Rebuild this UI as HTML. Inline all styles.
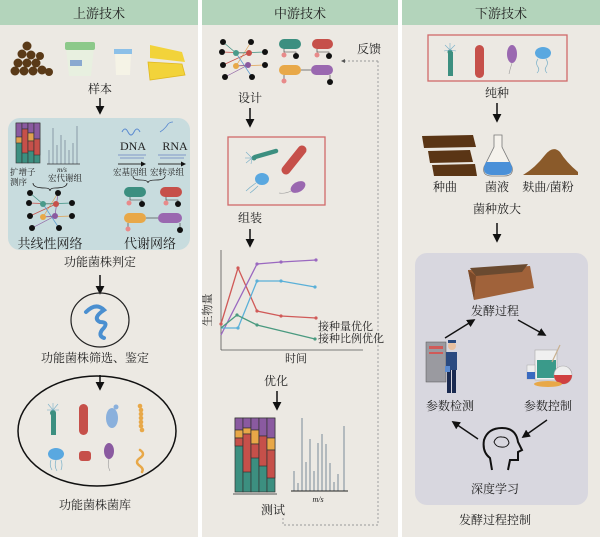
<!DOCTYPE html>
<html><head><meta charset="utf-8"><style>
html,body{margin:0;padding:0;background:#fff}
svg{display:block}
text{font-family:"Liberation Serif","Noto Serif CJK SC","Noto Sans CJK SC",serif;fill:#222}
</style></head><body>
<svg width="600" height="537" viewBox="0 0 600 537" xmlns="http://www.w3.org/2000/svg">
<defs>
<marker id="ah" viewBox="0 0 10 10" refX="8" refY="5" markerWidth="6" markerHeight="6" orient="auto"><path d="M0,0L10,5L0,10z" fill="#111"/></marker>
<marker id="ahs" viewBox="0 0 10 10" refX="8" refY="5" markerWidth="5" markerHeight="5" orient="auto"><path d="M0,0L10,5L0,10z" fill="#111"/></marker>
</defs>
<rect width="600" height="537" fill="#fff"/>
<!-- panels -->
<rect x="0" y="0" width="198" height="537" fill="#ece9e3"/>
<rect x="202" y="0" width="196" height="537" fill="#ece9e3"/>
<rect x="402" y="0" width="198" height="537" fill="#ece9e3"/>
<rect x="0" y="0" width="198" height="25" fill="#b3d4bb"/>
<rect x="202" y="0" width="196" height="25" fill="#b3d4bb"/>
<rect x="402" y="0" width="198" height="25" fill="#b3d4bb"/>
<text x="99" y="18" font-size="13" text-anchor="middle">上游技术</text>
<text x="300" y="18" font-size="13" text-anchor="middle">中游技术</text>
<text x="501" y="18" font-size="13" text-anchor="middle">下游技术</text>

<!-- ===== Panel 1 ===== -->
<g fill="#5a3a18">
<circle cx="27" cy="46" r="4.5"/><circle cx="22" cy="54" r="4.5"/><circle cx="31" cy="55" r="4.5"/><circle cx="18" cy="63" r="4.5"/><circle cx="27" cy="63" r="4.5"/><circle cx="36" cy="63" r="4.5"/><circle cx="15" cy="71" r="4.5"/><circle cx="24" cy="71" r="4.5"/><circle cx="33" cy="71" r="4.5"/><circle cx="42" cy="70" r="4.5"/><circle cx="49" cy="72" r="4"/><circle cx="40" cy="56" r="4"/>
</g>
<path d="M66,48 L94,48 L91,76 L69,76 Z" fill="#e8f0e0"/><rect x="65" y="42" width="30" height="8" rx="2" fill="#8cc98a"/><rect x="70" y="60" width="12" height="6" fill="#8aa9d0"/>
<path d="M115,52 L131,52 L130,75 L116,75 Z" fill="#f5f3e6"/><rect x="114" y="49" width="18" height="5" fill="#8cc0e8"/>
<path d="M150,45 L182,52 L185,62 L150,58 Z" fill="#f2d33a"/><path d="M148,62 L182,64 L185,75 L150,80 Z" fill="#f2d33a" stroke="#e0b820" stroke-width="0.8"/>
<text x="100" y="93" font-size="12" text-anchor="middle">样本</text>
<line x1="100" y1="98" x2="100" y2="113" stroke="#111" stroke-width="1.5" marker-end="url(#ah)"/>
<rect x="8" y="118" width="182" height="132" rx="12" fill="#c8dcde"/>
<!-- stacked bar -->
<g stroke="#333" stroke-width="0.6">
<rect x="16" y="123" width="6" height="40" fill="#3c8f80"/><rect x="16" y="123" width="6" height="14" fill="#8a5aa0"/><rect x="16" y="137" width="6" height="6" fill="#e0a050"/>
<rect x="22" y="123" width="6" height="40" fill="#3c8f80"/><rect x="22" y="123" width="6" height="6" fill="#8a5aa0"/><rect x="22" y="129" width="6" height="24" fill="#c6504a"/>
<rect x="28" y="123" width="6" height="40" fill="#3c8f80"/><rect x="28" y="123" width="6" height="10" fill="#8a5aa0"/><rect x="28" y="133" width="6" height="8" fill="#e0a050"/><rect x="28" y="141" width="6" height="10" fill="#c6504a"/>
<rect x="34" y="123" width="6" height="40" fill="#3c8f80"/><rect x="34" y="123" width="6" height="16" fill="#8a5aa0"/><rect x="34" y="139" width="6" height="16" fill="#c6504a"/>
</g>
<g stroke="#7a8a9a" stroke-width="0.8">
<line x1="49" y1="164" x2="49" y2="150"/><line x1="53" y1="164" x2="53" y2="128"/><line x1="57" y1="164" x2="57" y2="145"/><line x1="61" y1="164" x2="61" y2="135"/><line x1="65" y1="164" x2="65" y2="140"/><line x1="69" y1="164" x2="69" y2="150"/><line x1="73" y1="164" x2="73" y2="143"/><line x1="77" y1="164" x2="77" y2="126"/>
<line x1="47" y1="164" x2="80" y2="164" stroke="#333"/></g>
<text x="62" y="172" font-size="7" font-style="italic" text-anchor="middle">m/s</text>
<text x="10" y="175" font-size="8.5">扩增子</text><text x="10" y="185" font-size="8.5">测序</text>
<text x="48" y="181" font-size="8.5">宏代谢组</text>
<path d="M33,183 Q33,188 45,188 Q50,188 50,191 Q50,188 55,188 Q67,188 67,183" fill="none" stroke="#222" stroke-width="0.8"/>
<path d="M122,132 q3,-6 6,0 q3,6 6,0 q3,-6 6,0" fill="none" stroke="#5a8ad0" stroke-width="1"/>
<path d="M160,132 q5,-3 8,-8 q2,-2 5,-2" fill="none" stroke="#5a8ad0" stroke-width="0.8"/>
<text x="133" y="150" font-size="12" text-anchor="middle">DNA</text><text x="175" y="150" font-size="12" text-anchor="middle">RNA</text>
<g stroke="#6a80c0" stroke-width="0.7"><line x1="118" y1="155" x2="146" y2="155"/><line x1="120" y1="158" x2="144" y2="158"/><line x1="158" y1="155" x2="186" y2="155"/><line x1="160" y1="158" x2="184" y2="158"/></g>
<line x1="118" y1="164" x2="145" y2="164" stroke="#333" stroke-width="1" marker-end="url(#ahs)"/>
<line x1="158" y1="164" x2="185" y2="164" stroke="#333" stroke-width="1" marker-end="url(#ahs)"/>
<text x="113" y="175" font-size="8.5">宏基因组</text><text x="150" y="175" font-size="8.5">宏转录组</text>
<path d="M133,176 Q133,180 140,180 Q148,180 148,183 Q148,180 156,180 Q165,180 165,176" fill="none" stroke="#222" stroke-width="0.8"/>
<!-- co-occurrence network -->
<g stroke-width="0.7">
<line x1="30" y1="193" x2="43" y2="204" stroke="#3c8f80"/><line x1="58" y1="193" x2="43" y2="217" stroke="#e0a050"/><line x1="29" y1="203" x2="56" y2="204" stroke="#c6504a"/><line x1="72" y1="203" x2="43" y2="204" stroke="#3c8f80"/><line x1="30" y1="216" x2="56" y2="204" stroke="#c6504a"/><line x1="72" y1="216" x2="43" y2="217" stroke="#e0a050"/><line x1="32" y1="228" x2="55" y2="216" stroke="#8a5aa0"/><line x1="59" y1="228" x2="43" y2="204" stroke="#5a9ad0"/><line x1="43" y1="217" x2="55" y2="216" stroke="#8a5aa0"/><line x1="58" y1="193" x2="55" y2="216" stroke="#8a5aa0"/>
</g>
<g fill="#111"><circle cx="30" cy="193" r="3"/><circle cx="58" cy="193" r="3"/><circle cx="29" cy="203" r="3"/><circle cx="72" cy="203" r="3"/><circle cx="30" cy="216" r="3"/><circle cx="72" cy="216" r="3"/><circle cx="32" cy="228" r="3"/><circle cx="59" cy="228" r="3"/></g>
<circle cx="43" cy="204" r="3" fill="#4a9a8a"/><circle cx="56" cy="204" r="3" fill="#c6504a"/><circle cx="43" cy="217" r="3" fill="#e8a848"/><circle cx="55" cy="216" r="3" fill="#8a5aa0"/>
<text x="50" y="248" font-size="13" text-anchor="middle">共线性网络</text>
<!-- metabolic network -->
<rect x="124" y="187" width="22" height="10" rx="5" fill="#3c8f80"/><rect x="160" y="187" width="22" height="10" rx="5" fill="#c6504a"/>
<rect x="124" y="213" width="22" height="10" rx="5" fill="#e8a848"/><rect x="158" y="213" width="24" height="10" rx="5" fill="#9a68b0"/>
<g stroke="#333" stroke-width="0.6" fill="none"><path d="M130,197 v3 h12 v3"/><path d="M166,197 v3 h12 v3"/><path d="M146,218 h12"/><path d="M128,223 v4"/><path d="M180,223 v4"/></g>
<circle cx="129" cy="203" r="2.5" fill="#e88a8a"/><circle cx="142" cy="204" r="3" fill="#111"/><circle cx="166" cy="203" r="2.5" fill="#e88a8a"/><circle cx="178" cy="204" r="3" fill="#111"/><circle cx="128" cy="229" r="2.5" fill="#e88a8a"/><circle cx="180" cy="230" r="3" fill="#111"/>
<text x="150" y="248" font-size="13" text-anchor="middle">代谢网络</text>
<text x="100" y="266" font-size="12" text-anchor="middle">功能菌株判定</text>
<line x1="100" y1="275" x2="100" y2="293" stroke="#111" stroke-width="1.5" marker-end="url(#ah)"/>
<ellipse cx="100" cy="320" rx="29" ry="27" fill="none" stroke="#222" stroke-width="1.2"/>
<path d="M86,312 Q96,302 104,310 Q92,318 100,322 Q110,322 102,330 Q98,336 104,338" fill="none" stroke="#4a8fd0" stroke-width="4" stroke-linecap="round"/>
<text x="95" y="362" font-size="12" text-anchor="middle">功能菌株筛选、鉴定</text>
<line x1="100" y1="375" x2="100" y2="389" stroke="#111" stroke-width="1.5" marker-end="url(#ah)"/>
<ellipse cx="97" cy="431" rx="79" ry="55" fill="none" stroke="#111" stroke-width="1.5"/>
<rect x="51" y="413" width="5" height="22" fill="#3c8f80"/><circle cx="53" cy="413" r="3" fill="#3c8f80"/>
<g stroke="#7ab0c8" stroke-width="0.6"><line x1="53" y1="410" x2="48" y2="404"/><line x1="53" y1="410" x2="53" y2="403"/><line x1="53" y1="410" x2="58" y2="404"/><line x1="53" y1="410" x2="47" y2="410"/><line x1="53" y1="410" x2="59" y2="410"/></g>
<rect x="79" y="404" width="9" height="31" rx="4.5" fill="#c6504a"/>
<ellipse cx="112" cy="418" rx="6" ry="10" fill="#8ab0dc"/><circle cx="116" cy="407" r="2.5" fill="#8ab0dc"/>
<g fill="#e8a848"><circle cx="140" cy="406" r="2.3"/><circle cx="141" cy="410" r="2.3"/><circle cx="141" cy="414" r="2.3"/><circle cx="141" cy="418" r="2.3"/><circle cx="141" cy="422" r="2.3"/><circle cx="141" cy="426" r="2.3"/><circle cx="142" cy="430" r="2.3"/></g>
<ellipse cx="56" cy="454" rx="8" ry="6" fill="#5aa8e0"/><path d="M51,460 q-2,5 1,10 M56,460 q-2,6 1,11 M61,460 q2,5 0,10" fill="none" stroke="#7ab0c8" stroke-width="0.7"/>
<rect x="79" y="451" width="12" height="10" rx="3" fill="#c6504a"/>
<ellipse cx="109" cy="451" rx="5" ry="8" fill="#8a5aa0"/><path d="M109,459 q-2,6 1,12" fill="none" stroke="#999" stroke-width="0.6"/>
<path d="M140,450 q6,4 0,8 q-6,4 0,8 q4,3 2,6" fill="none" stroke="#e8a848" stroke-width="2.5" stroke-linecap="round"/>
<text x="95" y="509" font-size="12" text-anchor="middle">功能菌株菌库</text>

<!-- ===== Panel 2 ===== -->
<g stroke-width="0.7">
<line x1="223" y1="42" x2="236" y2="53" stroke="#3c8f80"/><line x1="251" y1="42" x2="236" y2="66" stroke="#e0a050"/><line x1="222" y1="52" x2="249" y2="53" stroke="#c6504a"/><line x1="265" y1="52" x2="236" y2="53" stroke="#3c8f80"/><line x1="223" y1="65" x2="249" y2="53" stroke="#c6504a"/><line x1="265" y1="65" x2="236" y2="66" stroke="#e0a050"/><line x1="225" y1="77" x2="248" y2="65" stroke="#8a5aa0"/><line x1="252" y1="77" x2="236" y2="53" stroke="#5a9ad0"/><line x1="236" y1="66" x2="248" y2="65" stroke="#8a5aa0"/>
</g>
<g fill="#111"><circle cx="223" cy="42" r="3"/><circle cx="251" cy="42" r="3"/><circle cx="222" cy="52" r="3"/><circle cx="265" cy="52" r="3"/><circle cx="223" cy="65" r="3"/><circle cx="265" cy="65" r="3"/><circle cx="225" cy="77" r="3"/><circle cx="252" cy="77" r="3"/></g>
<circle cx="236" cy="53" r="3" fill="#4a9a8a"/><circle cx="249" cy="53" r="3" fill="#c6504a"/><circle cx="236" cy="66" r="3" fill="#e8a848"/><circle cx="248" cy="65" r="3" fill="#8a5aa0"/>
<rect x="279" y="39" width="22" height="10" rx="5" fill="#3c8f80"/><rect x="312" y="39" width="21" height="10" rx="5" fill="#c6504a"/>
<rect x="279" y="65" width="22" height="10" rx="5" fill="#e8a848"/><rect x="311" y="65" width="22" height="10" rx="5" fill="#9a68b0"/>
<g stroke="#333" stroke-width="0.6" fill="none"><path d="M284,49 v3 h12 v3"/><path d="M317,49 v3 h12 v3"/><path d="M301,70 h10"/><path d="M284,75 v4"/><path d="M330,75 v4"/></g>
<circle cx="284" cy="55" r="2.5" fill="#e88a8a"/><circle cx="296" cy="56" r="3" fill="#111"/><circle cx="317" cy="55" r="2.5" fill="#e88a8a"/><circle cx="329" cy="56" r="3" fill="#111"/><circle cx="284" cy="81" r="2.5" fill="#e88a8a"/><circle cx="330" cy="82" r="3" fill="#111"/>
<text x="357" y="53" font-size="12">反馈</text>
<path d="M378,61 H345 M378,61 V525 H283 V518" fill="none" stroke="#999" stroke-width="0.9" stroke-dasharray="2,2"/>
<path d="M341,61 l4,-2 v4z" fill="#555"/>
<text x="250" y="102" font-size="12" text-anchor="middle">设计</text>
<line x1="250" y1="108" x2="250" y2="126" stroke="#111" stroke-width="1.5" marker-end="url(#ah)"/>
<rect x="228" y="137" width="97" height="68" fill="none" stroke="#d06a6a" stroke-width="1.3"/>
<path d="M255,157 L276,151" stroke="#3c8f80" stroke-width="4.5" stroke-linecap="round"/><circle cx="254" cy="158" r="2.5" fill="#3c8f80"/>
<g stroke="#7ab0c8" stroke-width="0.6"><line x1="252" y1="158" x2="246" y2="152"/><line x1="252" y1="158" x2="245" y2="158"/><line x1="252" y1="158" x2="246" y2="163"/><line x1="252" y1="158" x2="251" y2="164"/></g>
<line x1="286" y1="170" x2="302" y2="150" stroke="#c6504a" stroke-width="9" stroke-linecap="round"/>
<ellipse cx="262" cy="179" rx="7" ry="6" fill="#5aa8e0"/><path d="M256,183 q-6,4 -10,8 M258,186 q-4,4 -8,7" fill="none" stroke="#7ab0c8" stroke-width="0.7"/>
<ellipse cx="298" cy="187" rx="8" ry="5" transform="rotate(-30 298 187)" fill="#9a68b0"/><path d="M291,191 q-6,3 -12,2" fill="none" stroke="#999" stroke-width="0.6"/>
<text x="250" y="222" font-size="12" text-anchor="middle">组装</text>
<line x1="250" y1="229" x2="250" y2="246" stroke="#111" stroke-width="1.5" marker-end="url(#ah)"/>
<!-- chart -->
<line x1="221" y1="250" x2="221" y2="350" stroke="#555" stroke-width="0.8"/><line x1="221" y1="350" x2="363" y2="350" stroke="#555" stroke-width="0.8"/>
<polyline points="221,324 238,268 257,311 281,316 316,318" fill="none" stroke="#d05a58" stroke-width="1.3"/>
<polyline points="221,335 257,264 281,262 316,260" fill="none" stroke="#9a68c0" stroke-width="1.3"/>
<polyline points="221,328 238,328 257,281 281,281 315,287" fill="none" stroke="#5ab0d8" stroke-width="1.3"/>
<polyline points="221,328 237,315 257,325 315,339" fill="none" stroke="#4a9a80" stroke-width="1.3"/>
<g fill="#d05a58"><circle cx="221" cy="324" r="1.6"/><circle cx="238" cy="268" r="1.6"/><circle cx="257" cy="311" r="1.6"/><circle cx="281" cy="316" r="1.6"/><circle cx="316" cy="318" r="1.6"/></g>
<g fill="#9a68c0"><circle cx="257" cy="264" r="1.6"/><circle cx="281" cy="262" r="1.6"/><circle cx="316" cy="260" r="1.6"/></g>
<g fill="#5ab0d8"><circle cx="238" cy="328" r="1.6"/><circle cx="257" cy="281" r="1.6"/><circle cx="281" cy="281" r="1.6"/><circle cx="315" cy="287" r="1.6"/></g>
<g fill="#4a9a80"><circle cx="237" cy="315" r="1.6"/><circle cx="257" cy="325" r="1.6"/><circle cx="315" cy="339" r="1.6"/></g>
<text x="0" y="0" font-size="11" transform="translate(211,310) rotate(-90)" text-anchor="middle">生物量</text>
<text x="318" y="330" font-size="11">接种量优化</text>
<text x="318" y="342" font-size="11">接种比例优化</text>
<text x="296" y="362" font-size="11" text-anchor="middle">时间</text>
<text x="276" y="385" font-size="12" text-anchor="middle">优化</text>
<line x1="277" y1="391" x2="277" y2="409" stroke="#111" stroke-width="1.5" marker-end="url(#ah)"/>
<!-- stacked bar 2 -->
<g stroke="#333" stroke-width="0.7">
<rect x="235" y="418" width="8" height="74" fill="#3c8f80"/><rect x="235" y="418" width="8" height="12" fill="#8a5aa0"/><rect x="235" y="430" width="8" height="8" fill="#e8a848"/><rect x="235" y="438" width="8" height="8" fill="#c6504a"/>
<rect x="243" y="418" width="8" height="74" fill="#3c8f80"/><rect x="243" y="418" width="8" height="10" fill="#8a5aa0"/><rect x="243" y="428" width="8" height="6" fill="#e8a848"/><rect x="243" y="434" width="8" height="38" fill="#c6504a"/>
<rect x="251" y="418" width="8" height="74" fill="#3c8f80"/><rect x="251" y="418" width="8" height="12" fill="#8a5aa0"/><rect x="251" y="430" width="8" height="14" fill="#e8a848"/><rect x="251" y="444" width="8" height="14" fill="#c6504a"/>
<rect x="259" y="418" width="8" height="74" fill="#3c8f80"/><rect x="259" y="418" width="8" height="18" fill="#8a5aa0"/><rect x="259" y="436" width="8" height="30" fill="#c6504a"/>
<rect x="267" y="418" width="8" height="74" fill="#3c8f80"/><rect x="267" y="418" width="8" height="20" fill="#8a5aa0"/><rect x="267" y="438" width="8" height="12" fill="#e8a848"/><rect x="267" y="450" width="8" height="28" fill="#c6504a"/>
</g>
<line x1="233" y1="494" x2="277" y2="494" stroke="#555" stroke-width="1"/>
<g stroke="#7a8a9a" stroke-width="1">
<line x1="294" y1="491" x2="294" y2="471"/><line x1="298" y1="491" x2="298" y2="483"/><line x1="302" y1="491" x2="302" y2="418"/><line x1="306" y1="491" x2="306" y2="462"/><line x1="310" y1="491" x2="310" y2="439"/><line x1="314" y1="491" x2="314" y2="471"/><line x1="318" y1="491" x2="318" y2="443"/><line x1="322" y1="491" x2="322" y2="434"/><line x1="326" y1="491" x2="326" y2="444"/><line x1="330" y1="491" x2="330" y2="463"/><line x1="334" y1="491" x2="334" y2="482"/><line x1="338" y1="491" x2="338" y2="474"/><line x1="344" y1="491" x2="344" y2="426"/>
</g>
<line x1="291" y1="491" x2="348" y2="491" stroke="#222" stroke-width="1"/>
<text x="318" y="502" font-size="8" font-style="italic" text-anchor="middle">m/s</text>
<text x="273" y="514" font-size="12" text-anchor="middle">测试</text>

<!-- ===== Panel 3 ===== -->
<rect x="428" y="35" width="139" height="46" fill="none" stroke="#d06a6a" stroke-width="1.3"/>
<rect x="448" y="52" width="5" height="24" fill="#3c8f80"/><circle cx="450" cy="52" r="2.5" fill="#3c8f80"/>
<g stroke="#7ab0c8" stroke-width="0.6"><line x1="450" y1="50" x2="445" y2="45"/><line x1="450" y1="50" x2="450" y2="43"/><line x1="450" y1="50" x2="455" y2="45"/><line x1="450" y1="50" x2="444" y2="51"/><line x1="450" y1="50" x2="456" y2="51"/></g>
<rect x="475" y="45" width="9" height="33" rx="4.5" fill="#c6504a"/>
<ellipse cx="512" cy="54" rx="5" ry="9" fill="#9a68b0"/><path d="M512,63 q-2,6 -3,11" fill="none" stroke="#999" stroke-width="0.6"/>
<ellipse cx="543" cy="53" rx="8" ry="6" fill="#5aa8e0"/><path d="M538,59 q-3,4 0,8 q2,3 -1,6 M546,59 q3,4 0,8 q-2,3 1,6" fill="none" stroke="#7ab0c8" stroke-width="0.7"/>
<text x="497" y="97" font-size="12" text-anchor="middle">纯种</text>
<line x1="497" y1="103" x2="497" y2="121" stroke="#111" stroke-width="1.5" marker-end="url(#ah)"/>
<g fill="#5a3515"><polygon points="422,136 473,135 476,147 424,148"/><polygon points="428,151 470,150 473,162 430,163"/><polygon points="432,165 475,164 477,176 434,176"/></g>
<path d="M494,135 h8 v12 l10,20 q2,9 -8,9 h-12 q-10,0 -8,-9 l10,-20z" fill="#f5f2ec" stroke="#777" stroke-width="0.8"/>
<path d="M486,162 h24 l2,5 q1,8 -8,8 h-12 q-9,0 -8,-8z" fill="#4a90d8"/>
<path d="M523,175 Q535,168 545,155 Q553,145 560,152 Q566,162 578,172 L578,175 Z" fill="#8a5a2a"/>
<text x="445" y="191" font-size="12" text-anchor="middle">种曲</text>
<text x="497" y="191" font-size="12" text-anchor="middle">菌液</text>
<text x="548" y="191" font-size="12" text-anchor="middle">麸曲/菌粉</text>
<text x="497" y="213" font-size="12" text-anchor="middle">菌种放大</text>
<line x1="497" y1="223" x2="497" y2="241" stroke="#111" stroke-width="1.5" marker-end="url(#ah)"/>
<rect x="415" y="253" width="173" height="252" rx="12" fill="#d8d7df"/>
<polygon points="468,270 530,266 534,288 474,300" fill="#a0623a"/>
<polygon points="470,268 528,264 522,272 476,276" fill="#6a4a30"/>
<polygon points="468,270 474,300 476,276" fill="#7a4a2a"/>
<text x="495" y="315" font-size="12" text-anchor="middle">发酵过程</text>
<line x1="445" y1="338" x2="474" y2="320" stroke="#111" stroke-width="1.4" marker-end="url(#ah)"/>
<line x1="518" y1="320" x2="545" y2="335" stroke="#111" stroke-width="1.4" marker-end="url(#ah)"/>
<rect x="426" y="342" width="20" height="40" fill="#9a9aa0" stroke="#555" stroke-width="0.5"/>
<rect x="429" y="346" width="14" height="3" fill="#d05a58"/><rect x="429" y="352" width="14" height="2" fill="#d05a58"/>
<circle cx="452" cy="346" r="4" fill="#e8c0a0"/><rect x="448" y="340" width="8" height="3" fill="#2a4a80"/>
<path d="M446,352 h11 v18 h-11z" fill="#2a4a80"/><rect x="447" y="370" width="4" height="23" fill="#1a2a50"/><rect x="452" y="370" width="4" height="23" fill="#1a2a50"/>
<rect x="445" y="366" width="5" height="6" fill="#5a8ad0"/>
<text x="450" y="410" font-size="12" text-anchor="middle">参数检测</text>
<rect x="535" y="350" width="22" height="30" fill="#f0f0f0" stroke="#aaa" stroke-width="0.6"/>
<rect x="537" y="360" width="19" height="18" fill="#3a9a8a"/>
<circle cx="563" cy="375" r="9" fill="#eee" stroke="#aaa" stroke-width="0.6"/><path d="M554,375 a9,9 0 0 0 18,0z" fill="#d04040"/>
<rect x="527" y="365" width="8" height="14" fill="#eee" stroke="#aaa" stroke-width="0.5"/><rect x="527" y="372" width="8" height="7" fill="#3a6ac0"/>
<ellipse cx="548" cy="384" rx="14" ry="3" fill="#e8a848"/>
<line x1="560" y1="345" x2="552" y2="362" stroke="#c8b090" stroke-width="1.2"/>
<text x="548" y="410" font-size="12" text-anchor="middle">参数控制</text>
<line x1="547" y1="420" x2="523" y2="437" stroke="#111" stroke-width="1.4" marker-end="url(#ah)"/>
<line x1="478" y1="439" x2="453" y2="422" stroke="#111" stroke-width="1.4" marker-end="url(#ah)"/>
<path d="M492,470 L490,458 Q482,452 484,440 Q488,428 502,428 Q516,428 518,442 L522,450 L518,452 L518,460 L510,460 L508,470" fill="none" stroke="#111" stroke-width="2"/>
<path d="M494,442 q2,-6 8,-5 q6,0 7,6 q-2,5 -8,4 q-5,0 -7,-5z" fill="none" stroke="#111" stroke-width="1"/>
<text x="495" y="493" font-size="12" text-anchor="middle">深度学习</text>
<text x="495" y="524" font-size="12" text-anchor="middle">发酵过程控制</text>
</svg>
</body></html>
